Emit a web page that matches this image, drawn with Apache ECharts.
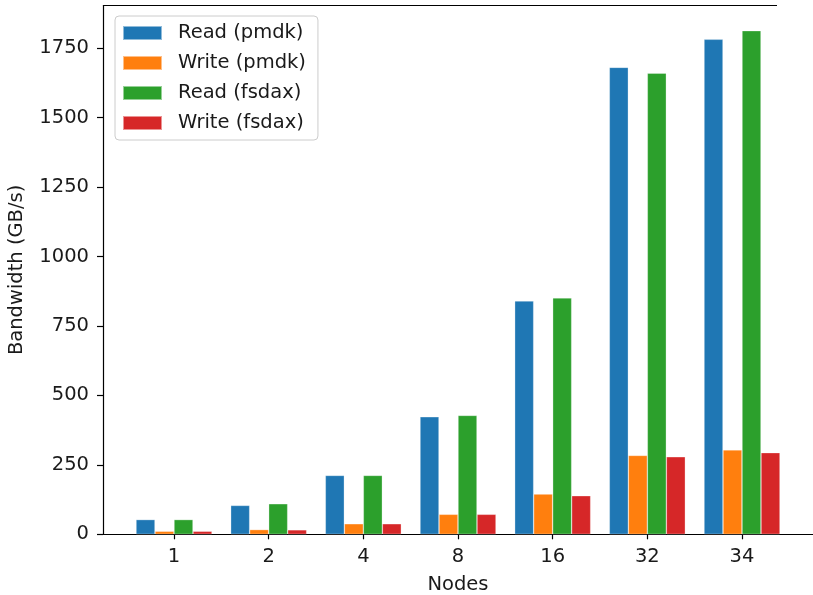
<!DOCTYPE html>
<html>
<head>
<meta charset="utf-8">
<script src="https://cdn.jsdelivr.net/npm/echarts@6/dist/echarts.min.js"></script>
<style>
  html, body { margin: 0; padding: 0; background: #fff; }
  #chart { width: 813px; height: 595px; }
</style>
</head>
<body>
<div id="chart"></div>
<script>
// Node counts on the x axis
const nodes = ['1', '2', '4', '8', '16', '32', '34'];

// Bandwidth in GB/s per node count
const readPmdk   = [53, 104, 212, 423, 840, 1681, 1782];
const writePmdk  = [11, 17, 38, 72, 145, 284, 304];
const readFsdax  = [53, 110, 212, 428, 851, 1660, 1813];
const writeFsdax = [11, 16, 38, 72, 139, 279, 294];

const yTicks = [0, 250, 500, 750, 1000, 1250, 1500, 1750];

const seriesDefs = [
  { name: 'Read (pmdk)',  data: readPmdk,   color: '#1f77b4' },
  { name: 'Write (pmdk)', data: writePmdk,  color: '#ff7f0e' },
  { name: 'Read (fsdax)', data: readFsdax,  color: '#2ca02c' },
  { name: 'Write (fsdax)', data: writeFsdax, color: '#d62728' }
];

const positions = nodes.map((_, i) => i);
const yMax = Math.max(...readPmdk, ...writePmdk, ...readFsdax, ...writeFsdax) * 1.05;
const font = 'DejaVu Sans';
const fs = 19.5;
const ink = '#1a1a1a';

const chart = echarts.init(document.getElementById('chart'), null, { renderer: 'canvas' });

chart.setOption({
  animation: false,
  backgroundColor: '#fff',
  textStyle: { fontFamily: font },
  grid: { left: 103, right: 0, top: 5.5, bottom: 60.7, containLabel: false, outerBoundsMode: 'none' },
  legend: {
    orient: 'vertical',
    left: 115,
    top: 16,
    icon: 'rect',
    itemWidth: 39,
    itemHeight: 14,
    itemGap: 10,
    padding: [7, 12, 7, 7],
    backgroundColor: 'rgba(255,255,255,0.85)',
    borderColor: '#cccccc',
    borderWidth: 1,
    borderRadius: 4,
    textStyle: { fontFamily: font, fontSize: fs, color: ink, lineHeight: 18, padding: [0, 0, 0, 11] },
    data: seriesDefs.map(s => s.name)
  },
  xAxis: {
    type: 'value',
    min: -0.75,
    max: nodes.length - 0.25,
    name: 'Nodes',
    nameLocation: 'middle',
    nameGap: 41,
    nameTextStyle: { fontFamily: font, fontSize: fs, color: ink },
    axisLine: { show: true, onZero: false, lineStyle: { color: '#000', width: 1.2 } },
    axisTick: { show: true, length: 5, inside: false, customValues: positions, lineStyle: { color: '#000', width: 1.2 } },
    axisLabel: {
      customValues: positions,
      margin: 13,
      fontFamily: font, fontSize: fs, color: ink,
      formatter: v => nodes[Math.round(v)]
    },
    splitLine: { show: false }
  },
  yAxis: {
    type: 'value',
    min: 0,
    max: yMax,
    name: 'Bandwidth (GB/s)',
    nameLocation: 'middle',
    nameGap: 76,
    nameTextStyle: { fontFamily: font, fontSize: fs, color: ink },
    axisLine: { show: true, onZero: false, lineStyle: { color: '#000', width: 1.2 } },
    axisTick: { show: true, length: 6, customValues: yTicks, lineStyle: { color: '#000', width: 1.2 } },
    axisLabel: { customValues: yTicks, margin: 14, fontFamily: font, fontSize: fs, color: ink, formatter: v => String(v) },
    splitLine: { show: false }
  },
  series: seriesDefs.map(s => ({
    type: 'bar',
    name: s.name,
    barWidth: 19,
    barGap: 0,
    itemStyle: { color: s.color, borderColor: 'rgba(255,255,255,0.5)', borderWidth: 0.6 },
    data: s.data.map((v, i) => [positions[i], v])
  })),
  graphic: [{
    // top spine of the plot frame
    type: 'line',
    shape: { x1: 103, y1: 5.5, x2: 777, y2: 5.5 },
    style: { stroke: '#000', lineWidth: 1.2 },
    z: 10
  }]
});
</script>
</body>
</html>
